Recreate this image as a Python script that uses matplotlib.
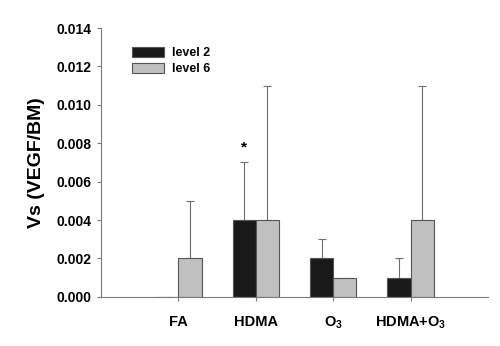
import numpy as np
import matplotlib.pyplot as plt

plt.rcParams['font.family'] = ['Liberation Sans', 'DejaVu Sans']
plt.rcParams['font.weight'] = 'bold'
plt.rcParams['mathtext.fontset'] = 'custom'
plt.rcParams['mathtext.bf'] = 'Liberation Sans:bold'
plt.rcParams['mathtext.rm'] = 'Liberation Sans:bold'
plt.rcParams['mathtext.default'] = 'bf'

# values
groups = ['FA', 'HDMA', 'O$_3$', 'HDMA+O$_3$']
level2 = [0.0, 0.004, 0.002, 0.001]
level2_err = [np.nan, 0.003, 0.001, 0.001]
level6 = [0.002, 0.004, 0.001, 0.004]
level6_err = [0.003, 0.007, np.nan, 0.007]
yticks = [0.0, 0.002, 0.004, 0.006, 0.008, 0.010, 0.012, 0.014]

x = np.arange(1, len(groups) + 1)
w = 0.3

fig = plt.figure(figsize=(5, 3.46), dpi=100)
ax = fig.add_axes([0.202, 0.142, 0.774, 0.777])

ax.bar(x - w / 2, level2, w, color='#1a1a1a', edgecolor='#555555', linewidth=0.8, label='level 2', zorder=2)
ax.bar(x + w / 2, level6, w, color='#c0c0c0', edgecolor='#555555', linewidth=0.8, label='level 6', zorder=2)

err_kw = dict(fmt='none', ecolor='#6e6e6e', elinewidth=0.8, capsize=3, capthick=0.8, zorder=1)
ax.errorbar(x - w / 2, level2, yerr=[np.zeros(4), level2_err], **err_kw)
ax.errorbar(x + w / 2, level6, yerr=[np.zeros(4), level6_err], **err_kw)

# significance marker
ax.text(x[1] - w / 2, level2[1] + level2_err[1] + 0.0004, '*', ha='center', va='bottom', fontsize=11, fontweight='bold')

ax.set_xlim(0, 5)
ax.set_ylim(0, 0.014)
ax.set_yticks(yticks)
ax.set_yticklabels([f'{v:.3f}' for v in yticks], fontsize=10, fontweight='bold')
ax.set_xticks(x)
ax.set_xticklabels(groups, fontsize=10.5, fontweight='bold')
ax.set_ylabel('Vs (VEGF/BM)', fontsize=14, fontweight='bold', labelpad=8)

for s in ['top', 'right']:
    ax.spines[s].set_visible(False)
for s in ['left', 'bottom']:
    ax.spines[s].set_color('#7a7a7a')
    ax.spines[s].set_linewidth(0.8)
ax.tick_params(axis='both', color='#7a7a7a', length=3, width=0.8)
ax.tick_params(axis='y', pad=4)
ax.tick_params(axis='x', pad=10)

ax.legend(loc='upper left', bbox_to_anchor=(0.05, 0.97), frameon=False,
          handlelength=2.6, handleheight=0.8, labelspacing=0.3, handletextpad=0.6,
          prop={'weight': 'bold', 'size': 9})

fig.savefig('out.png', dpi=100)
